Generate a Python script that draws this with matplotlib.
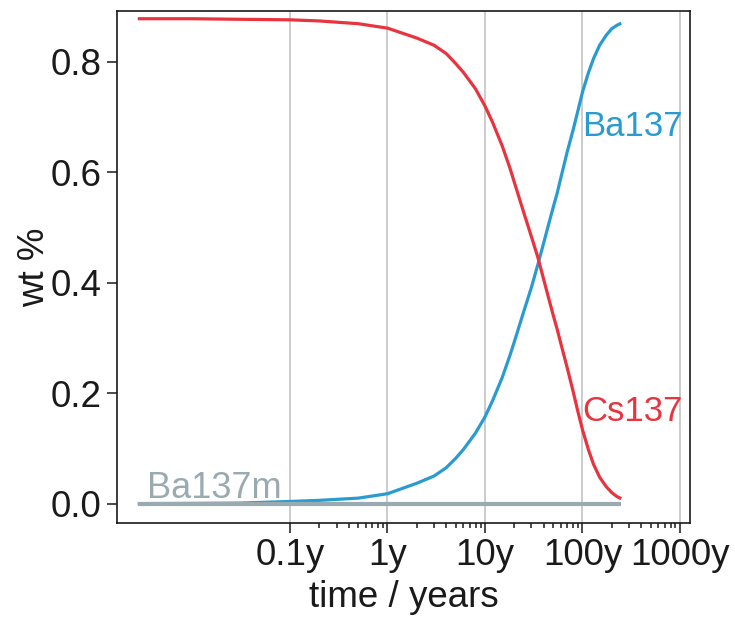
import matplotlib
matplotlib.use("Agg")
import matplotlib.pyplot as plt
from matplotlib.ticker import FixedLocator, FixedFormatter, NullFormatter

plt.rcParams['font.family'] = ['Liberation Sans', 'DejaVu Sans']

# decay of Cs-137 into Ba-137 (via Ba-137m), weight fraction vs time in years
time_years = [0.00274, 0.01, 0.03, 0.1, 0.2, 0.5, 1, 2, 3, 4, 5, 6, 7, 8,
              10, 12, 15, 18, 20, 25, 30, 35, 40, 45, 50, 55, 60, 70, 80, 90,
              100, 115, 130, 150, 175, 200, 225, 250]
cs137 = [0.878, 0.878, 0.877, 0.876, 0.874, 0.869, 0.861, 0.843, 0.830, 0.815,
         0.797, 0.781, 0.765, 0.751, 0.720, 0.690, 0.648, 0.608, 0.582, 0.527,
         0.483, 0.445, 0.406, 0.372, 0.342, 0.316, 0.290, 0.245, 0.204, 0.166,
         0.134, 0.098, 0.071, 0.048, 0.031, 0.020, 0.013, 0.009]
ba137 = [0.0001, 0.0005, 0.001, 0.004, 0.006, 0.010, 0.018, 0.037, 0.050,
         0.065, 0.082, 0.098, 0.114, 0.128, 0.157, 0.187, 0.228, 0.268, 0.293,
         0.348, 0.392, 0.434, 0.472, 0.506, 0.536, 0.562, 0.590, 0.638, 0.676,
         0.712, 0.745, 0.780, 0.806, 0.830, 0.848, 0.860, 0.866, 0.870]
ba137m_time = [0.00274, 250]
ba137m = [0.0, 0.0]

x_ticks = [0.1, 1, 10, 100, 1000]
x_tick_labels = ["0.1y", "1y", "10y", "100y", "1000y"]
y_ticks = [0.0, 0.2, 0.4, 0.6, 0.8]
y_tick_labels = ["0.0", "0.2", "0.4", "0.6", "0.8"]

RED = "#e8343f"
BLUE = "#2a9bd1"
GREY = "#9aaab1"
GRID = "#bfbfbf"
INK = "#1a1a1a"

W, H = 735, 617
fig = plt.figure(figsize=(W / 100, H / 100), dpi=100)
ax = fig.add_axes([117 / W, (H - 523) / H, (690 - 117) / W, (523 - 11) / H])

ax.set_xscale("log")
ax.set_xlim(0.00168, 1268)
ax.set_ylim(-0.035, 0.892)

for xv in x_ticks:
    ax.axvline(xv, color=GRID, lw=1.1, zorder=0)

ax.plot(time_years, ba137, color=BLUE, lw=2.3, solid_capstyle="butt",
        solid_joinstyle="round", zorder=2)
ax.plot(time_years, cs137, color=RED, lw=2.3, solid_capstyle="butt",
        solid_joinstyle="round", zorder=3)
ax.plot(ba137m_time, ba137m, color=GREY, lw=3.0, solid_capstyle="butt", zorder=4)

ax.text(100, 0.665, "Ba137", color=BLUE, fontsize=25, ha="left", va="baseline")
ax.text(100, 0.149, "Cs137", color=RED, fontsize=25, ha="left", va="baseline")
ax.text(0.0034, 0.011, "Ba137m", color=GREY, fontsize=26, ha="left", va="baseline")

ax.xaxis.set_major_locator(FixedLocator(x_ticks))
ax.xaxis.set_major_formatter(FixedFormatter(x_tick_labels))
minor = [m * d for d in (0.1, 1, 10, 100) for m in range(2, 10)]
ax.xaxis.set_minor_locator(FixedLocator(minor))
ax.xaxis.set_minor_formatter(NullFormatter())
ax.yaxis.set_major_locator(FixedLocator(y_ticks))
ax.yaxis.set_major_formatter(FixedFormatter(y_tick_labels))

ax.tick_params(axis="both", which="major", direction="out", length=7, width=1.1,
               colors=INK, labelsize=26.5, pad=4)
ax.tick_params(axis="x", which="minor", direction="out", length=3.5, width=1.1,
               colors=INK)

for sp in ax.spines.values():
    sp.set_linewidth(1.2)
    sp.set_color(INK)

ax.set_xlabel("time / years", fontsize=26.5, color=INK, labelpad=5)
ax.set_ylabel("wt %", fontsize=26.5, color=INK, labelpad=-1)

fig.savefig("out.png", dpi=100)
